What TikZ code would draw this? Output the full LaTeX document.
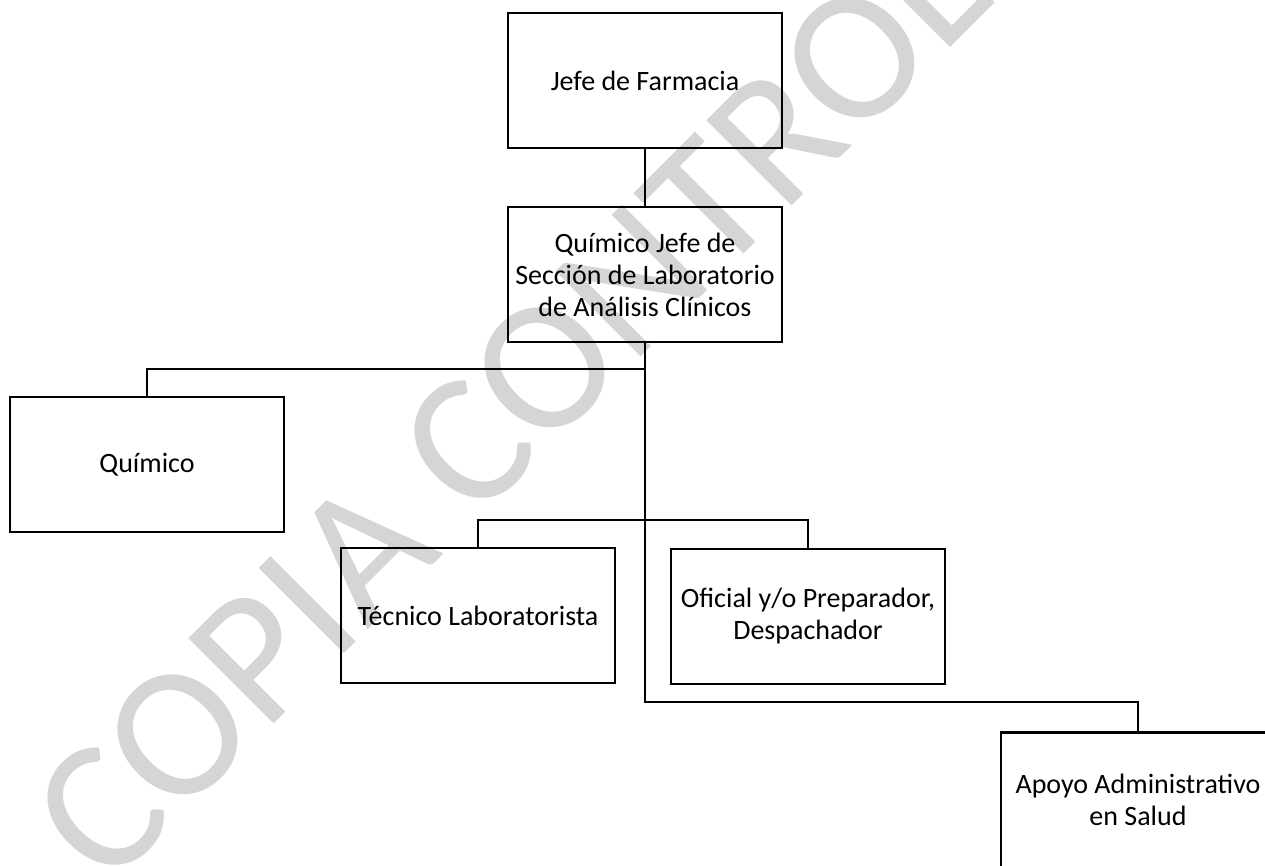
\documentclass[tikz,border=0pt]{standalone}
\usepackage{fontspec}
\setmainfont{Carlito}
\begin{document}
\begin{tikzpicture}[x=1pt,y=-1pt,
  orgbox/.style={draw=black, line width=2.3pt, minimum width=274pt, minimum height=135pt,
    inner sep=2pt, align=center, font=\fontsize{28}{32}\selectfont},
  conn/.style={draw=black, line width=1.8pt},
  wmark/.style={text=gray!33, inner sep=0pt, anchor=base west, rotate=45,
    font=\fontsize{188}{188}\selectfont}]
\useasboundingbox (0,0) rectangle (1265,865);
\clip (0,0) rectangle (1265,865);
% watermark
\node[wmark] (wm) at (107,891) {COPIA CONTROLADA};
% boxes
\node[orgbox] (jefe)  at (645,80.5) {Jefe de Farmacia};
\node[orgbox] (qjefe) at (645,274.5) {Químico Jefe de\\Sección de Laboratorio\\de Análisis Clínicos};
\node[orgbox] (quim)  at (147,464.5) {Químico};
\node[orgbox] (tec)   at (478,615.5) {Técnico Laboratorista};
\node[orgbox] (ofi)   at (808,616.5) {Oficial y/o Preparador,\\Despachador};
\node[orgbox] (apoyo) at (1138,800) {Apoyo Administrativo\\en Salud};
% junctions
\coordinate (h1) at (645,369);
\coordinate (h2) at (645,520);
\coordinate (h3) at (645,702);
% connectors
\draw[conn] (jefe.south) -- (qjefe.north);
\draw[conn] (qjefe.south) -- (h3) -| (apoyo.north);
\draw[conn] (quim.north) |- (h1);
\draw[conn] (tec.north) |- (h2) -| (ofi.north);
\end{tikzpicture}
\end{document}
